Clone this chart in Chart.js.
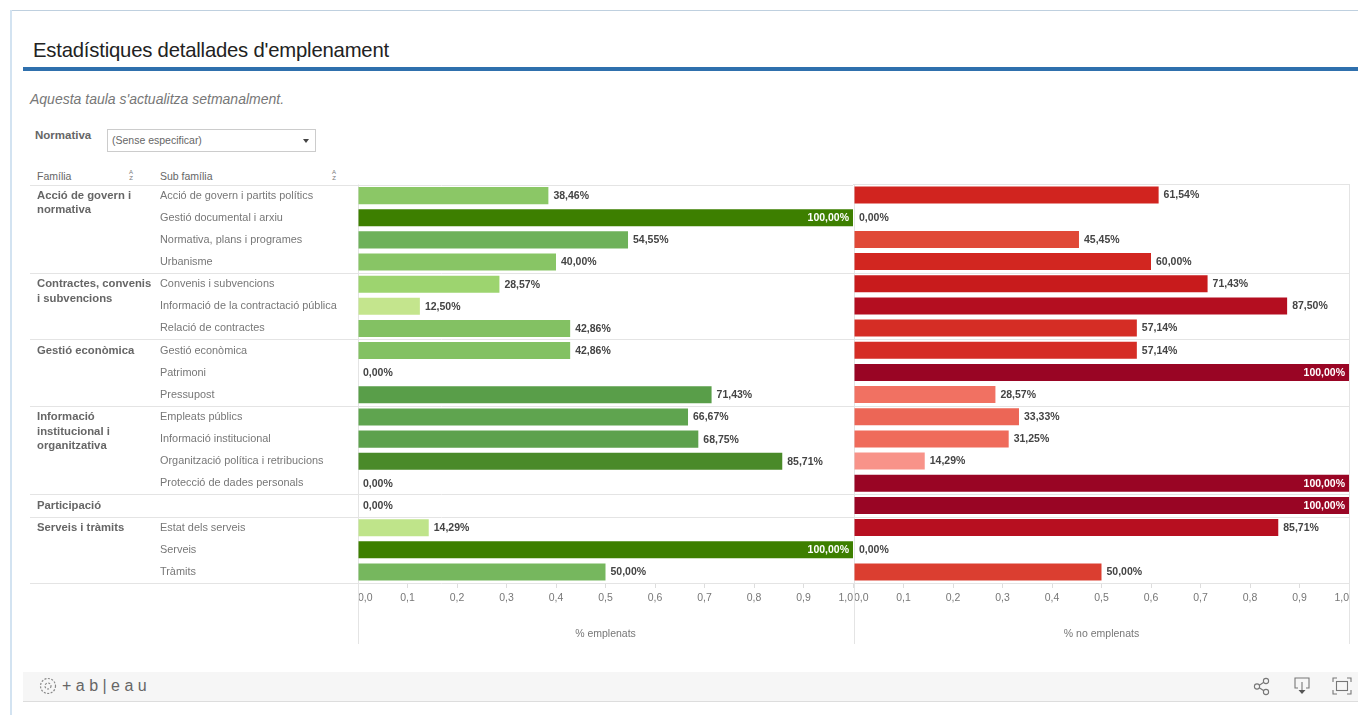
<!DOCTYPE html>
<html lang="ca">
<head>
<meta charset="utf-8">
<title>Estadístiques detallades d'emplenament</title>
<script src="https://cdn.jsdelivr.net/npm/chart.js@4"></script>
<style>
	html, body { margin: 0; padding: 0; width: 1358px; height: 715px; overflow: hidden; background: #fff; }
	body { font-family: "Liberation Sans", Arial, sans-serif; position: relative; filter: blur(0.75px); }
	.abs { position: absolute; white-space: nowrap; line-height: 1; }
	canvas { position: absolute; }
	#frameTop { position: absolute; left: 10px; top: 10px; right: 0; height: 1px; background: #bfd0df; }
	#frameLeft { position: absolute; left: 10px; top: 10px; bottom: 0; width: 2px; background: #d3e3f1; }
	#rule { position: absolute; left: 23px; right: 0; top: 67px; height: 4px; background: #2f70ad; }
	#title { left: 33px; top: 40px; font-size: 20.3px; color: #222; letter-spacing: -0.2px; }
	#note { left: 30px; top: 92px; font-size: 14px; font-style: italic; color: #777; }
	#filterLabel { left: 35px; top: 130px; font-size: 11.5px; font-weight: bold; color: #666; }
	#filter { position: absolute; left: 107px; top: 129px; width: 207px; height: 21px; border: 1px solid #ccc; }
	#filterText { left: 112px; top: 135px; font-size: 10.5px; color: #666; }
	#filterArrow { position: absolute; left: 303px; top: 139px; border: 3px solid transparent; border-top: 4px solid #444; }
	.head { top: 171px; font-size: 10.5px; color: #666; }
	.sort { top: 169px; font-size: 6px; line-height: 6px; color: #777; white-space: normal; width: 6px; text-align: center; }
	#footer { position: absolute; left: 23px; right: 0; top: 672px; height: 29px; background: #f6f6f6; border-bottom: 1px solid #ddd; }
	#logo { left: 62px; top: 678px; font-size: 16px; color: #666; }
	svg { position: absolute; }
</style>
</head>
<body>
<div id="frameTop"></div>
<div id="frameLeft"></div>
<div id="title" class="abs">Estadístiques detallades d'emplenament</div>
<div id="rule"></div>
<div id="note" class="abs">Aquesta taula s'actualitza setmanalment.</div>
<div id="filterLabel" class="abs">Normativa</div>
<div id="filter"></div>
<div id="filterText" class="abs">(Sense especificar)</div>
<div id="filterArrow"></div>
<div class="abs head" style="left:37px">Família</div>
<div class="abs sort" style="left:128px">A<br>Z</div>
<div class="abs head" style="left:160px">Sub família</div>
<div class="abs sort" style="left:331px">A<br>Z</div>

<canvas id="chartFilled" width="824" height="472" style="left:30px;top:175px"></canvas>
<canvas id="chartEmpty" width="505" height="472" style="left:853px;top:175px"></canvas>

<div id="footer"></div>
<svg style="left:39px;top:677px" width="18" height="18" viewBox="0 0 18 18" fill="none" stroke="#888" stroke-width="1.2" stroke-dasharray="2 1.5">
	<circle cx="9" cy="9" r="7.5"></circle><circle cx="9" cy="9" r="3"></circle>
</svg>
<div id="logo" class="abs">+ a b | e a u</div>
<svg style="left:1253px;top:677px" width="18" height="19" viewBox="0 0 18 19" fill="none" stroke="#777" stroke-width="1.1">
	<circle cx="4" cy="9.5" r="2.6"></circle><circle cx="13" cy="4" r="2.6"></circle><circle cx="13" cy="15" r="2.6"></circle>
	<path d="M6.3 8.2 L10.8 5.3 M6.3 10.8 L10.8 13.7"></path>
</svg>
<svg style="left:1292px;top:676px" width="20" height="20" viewBox="0 0 20 20" fill="none" stroke="#777" stroke-width="1.1">
	<path d="M6 12 H3 V2 H17 V12 H14"></path>
	<path d="M10 6 V14"></path>
	<path d="M6.5 14 H13.5 L10 18 Z" fill="#555" stroke="none"></path>
</svg>
<svg style="left:1332px;top:677px" width="20" height="18" viewBox="0 0 20 18" fill="none" stroke="#777" stroke-width="1.1">
	<path d="M1 5 V1 H5 M15 1 H19 V5 M19 13 V17 H15 M5 17 H1 V13"></path>
	<rect x="4.5" y="4.5" width="11" height="9"></rect>
</svg>

<script>
(() => {
	'use strict'

	// Table data
	const subFamilies = [
		'Acció de govern i partits polítics', 'Gestió documental i arxiu', 'Normativa, plans i programes', 'Urbanisme',
		'Convenis i subvencions', 'Informació de la contractació pública', 'Relació de contractes',
		'Gestió econòmica', 'Patrimoni', 'Pressupost',
		'Empleats públics', 'Informació institucional', 'Organització política i retribucions', 'Protecció de dades personals',
		'',
		'Estat dels serveis', 'Serveis', 'Tràmits'
	];
	const families = [
		['Acció de govern i', 'normativa'],
		['Contractes, convenis', 'i subvencions'],
		['Gestió econòmica'],
		['Informació', 'institucional i', 'organitzativa'],
		['Participació'],
		['Serveis i tràmits']
	];
	const familyRows = [4, 3, 3, 4, 1, 3];
	const filledValues = [38.46, 100, 54.55, 40, 28.57, 12.5, 42.86, 42.86, 0, 71.43, 66.67, 68.75, 85.71, 0, 0, 14.29, 100, 50];
	const emptyValues = [61.54, 0, 45.45, 60, 71.43, 87.5, 57.14, 57.14, 100, 28.57, 33.33, 31.25, 14.29, 100, 100, 85.71, 0, 50];
	const axisTicks = [0, 0.1, 0.2, 0.3, 0.4, 0.5, 0.6, 0.7, 0.8, 0.9, 1];

	// Colour ramps, [percentage, r, g, b]
	const greenRamp = [[12, 197, 230, 142], [28, 158, 213, 112], [40, 136, 197, 101], [55, 109, 176, 90], [70, 91, 160, 76], [86, 74, 138, 40], [100, 61, 127, 0]];
	const redRamp = [[14, 248, 148, 138], [30, 240, 110, 94], [45, 224, 74, 56], [60, 210, 38, 32], [72, 200, 26, 28], [87, 181, 14, 32], [100, 153, 5, 36]];

	function rampColor(ramp, value) {
		let i = 1;
		while (i < ramp.length - 1 && value > ramp[i][0]) i++;
		const a = ramp[i - 1], b = ramp[i];
		const t = Math.max(0, Math.min(1, (value - a[0]) / (b[0] - a[0])));
		const mix = n => Math.round(a[n] + (b[n] - a[n]) * t);
		return `rgb(${mix(1)},${mix(2)},${mix(3)})`;
	}

	const decimal = (v, digits) => v.toFixed(digits).replace('.', ',');

	// Separators between families and the vertical axis lines
	const tableLines = {
		id: 'tableLines',
		beforeDatasetsDraw(chart, args, opts) {
			const { ctx, chartArea, scales } = chart;
			ctx.save();
			ctx.strokeStyle = '#e4e4e4';
			ctx.lineWidth = 1;
			const rowHeight = scales.y.getPixelForValue(1) - scales.y.getPixelForValue(0);
			let row = 0;
			[0, ...familyRows].forEach(count => {
				row += count;
				const y = Math.round(scales.y.getPixelForValue(row) - rowHeight / 2) + 0.5;
				ctx.beginPath();
				ctx.moveTo(opts.lineStart, y);
				ctx.lineTo(chartArea.right, y);
				ctx.stroke();
			});
			opts.verticals.forEach(tick => {
				const x = Math.round(scales.x.getPixelForValue(tick)) + 0.5;
				ctx.beginPath();
				ctx.moveTo(x, chartArea.top);
				ctx.lineTo(x, chart.height - 3);
				ctx.stroke();
			});
			ctx.restore();
		}
	};

	// Percentages next to the bars
	const barLabels = {
		id: 'barLabels',
		afterDatasetsDraw(chart) {
			const { ctx } = chart;
			const values = chart.data.datasets[0].data;
			ctx.save();
			ctx.font = 'bold 10.5px "Liberation Sans", Arial, sans-serif';
			ctx.textBaseline = 'middle';
			chart.getDatasetMeta(0).data.forEach((bar, i) => {
				const text = decimal(values[i] * 100, 2) + '%';
				if (values[i] >= 1) {
					ctx.textAlign = 'right';
					ctx.fillStyle = '#fff';
					ctx.fillText(text, bar.x - 4, bar.y + 0.5);
				} else {
					ctx.textAlign = 'left';
					ctx.fillStyle = '#444';
					ctx.fillText(text, bar.x + 5, bar.y + 0.5);
				}
			});
			ctx.restore();
		}
	};

	// Family names in the first column
	const familyColumn = {
		id: 'familyColumn',
		afterDraw(chart) {
			const { ctx, scales } = chart;
			ctx.save();
			ctx.font = 'bold 11.3px "Liberation Sans", Arial, sans-serif';
			ctx.fillStyle = '#666';
			ctx.textBaseline = 'middle';
			let row = 0;
			families.forEach((lines, f) => {
				const y = scales.y.getPixelForValue(row);
				lines.forEach((line, n) => ctx.fillText(line, 7, y + n * 14.5));
				row += familyRows[f];
			});
			ctx.restore();
		}
	};

	function buildChart(canvasId, values, ramp, axisTitle, showRows, padding, verticals) {
		const plugins = [tableLines, barLabels];
		if (showRows) plugins.push(familyColumn);

		return new Chart(document.getElementById(canvasId), {
			type: 'bar',
			data: {
				labels: subFamilies,
				datasets: [{
					data: values.map(v => v / 100),
					backgroundColor: ctx => rampColor(ramp, values[ctx.dataIndex]),
					barPercentage: 0.77,
					categoryPercentage: 1
				}]
			},
			plugins: plugins,
			options: {
				indexAxis: 'y',
				responsive: false,
				animation: false,
				layout: { padding: padding },
				scales: {
					x: {
						min: 0,
						max: 1,
						afterBuildTicks: scale => { scale.ticks = axisTicks.map(value => ({ value })); },
						afterFit: scale => {
							// the end labels sit inside the axis, so no side padding is needed
							scale.height = 64;
							scale.paddingLeft = 0;
							scale.paddingRight = 0;
						},
						grid: { drawOnChartArea: false, drawTicks: true, tickLength: 5, color: '#ddd' },
						border: { display: false },
						ticks: {
							align: 'inner',
							maxRotation: 0,
							autoSkip: false,
							padding: 4,
							color: '#777',
							font: { family: '"Liberation Sans", Arial, sans-serif', size: 10.5 },
							callback: value => decimal(value, 1)
						},
						title: {
							display: true,
							text: axisTitle,
							color: '#777',
							font: { family: '"Liberation Sans", Arial, sans-serif', size: 10.5 },
							padding: { top: 0, bottom: 7 }
						}
					},
					y: {
						display: showRows,
						afterFit: scale => { scale.width = showRows ? 198 : 0; },
						grid: { display: false },
						border: { display: false },
						ticks: {
							crossAlign: 'far',
							autoSkip: false,
							color: '#777',
							font: { family: '"Liberation Sans", Arial, sans-serif', size: 10.9 }
						}
					}
				},
				plugins: {
					legend: { display: false },
					title: { display: false },
					tooltip: { enabled: false },
					tableLines: { verticals: verticals, lineStart: 0 }
				}
			}
		});
	}

	buildChart('chartFilled', filledValues, greenRamp, '% emplenats', true, { left: 130, top: 9, right: 1, bottom: 0 }, [0]);
	buildChart('chartEmpty', emptyValues, redRamp, '% no emplenats', false, { left: 1, top: 9, right: 9, bottom: 0 }, [0, 1]);
})()
</script>
</body>
</html>
